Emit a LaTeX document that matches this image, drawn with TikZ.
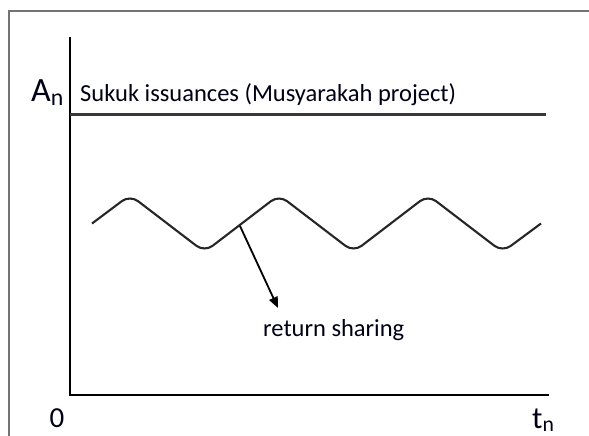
\documentclass[tikz,border=0pt]{standalone}
\usepackage{fontspec}
\setmainfont{Carlito}
\usetikzlibrary{arrows.meta}
\begin{document}
\begin{tikzpicture}[x=1pt,y=-1pt,
  frameline/.style={draw=black!55,line width=1.4pt},
  axisline/.style={draw=black,line width=2.6pt},
  levelline/.style={draw=black!78,line width=3pt},
  waveline/.style={draw=black!85,line width=2.1pt,rounded corners=10pt},
  label/.style={inner sep=0pt,text=black!92!blue},
  pointer/.style={draw=black,line width=1.8pt,-{Triangle[length=11pt,width=9pt]}}]
\useasboundingbox (0,0) rectangle (589,436);
\draw[frameline] (9,460) -- (9,11) -- (620,11);
% axes
\coordinate (ytop) at (70,37);
\coordinate (orig) at (70,395);
\coordinate (xend) at (549,395);
\draw[axisline] (ytop) -- (orig) -- (xend);
% level line
\coordinate (ls) at (70,114.5);
\coordinate (le) at (546,114.5);
\draw[levelline] (ls) -- (le);
% wave
\draw[waveline] (92,223.5) -- (130,195) -- (204.5,252) -- (279,195) -- (353.5,252) -- (428,195) -- (502.5,252) -- (541,223.5);
\coordinate (wp) at (240,226);
\coordinate (tip) at (278,308);
\draw[pointer] (wp) -- (tip);
% labels
\node[label,anchor=base west,font=\fontsize{34}{36}\selectfont] (an) at (31,102) {A\textsubscript{n}};
\node[label,anchor=base west,font=\fontsize{24.5}{27}\selectfont] (sukuk) at (80,102) {Sukuk issuances (Musyarakah project)};
\node[label,anchor=base west,font=\fontsize{24.5}{27}\selectfont] (ret) at (263,336) {return sharing};
\node[label,anchor=base,font=\fontsize{29}{32}\selectfont] (zero) at (57,427) {0};
\node[label,anchor=base west,font=\fontsize{31}{34}\selectfont] (tn) at (532,428) {t\textsubscript{n}};
\end{tikzpicture}
\end{document}
